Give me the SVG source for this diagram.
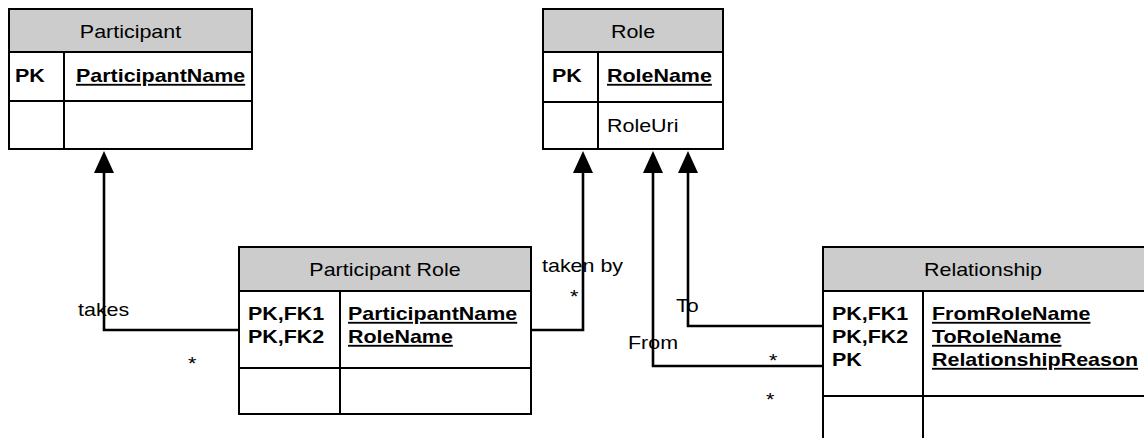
<svg xmlns="http://www.w3.org/2000/svg" width="1144" height="438" viewBox="0 0 1144 438">
  <style>
    text { font-family: "Liberation Sans", Arial, sans-serif; font-size: 18.5px; fill: #000; }
    .hdr { fill: #cccccc; stroke: #000; stroke-width: 2; }
    .box { fill: #ffffff; stroke: #000; stroke-width: 2; }
    .sep { stroke: #000; stroke-width: 2; fill: none; }
    .title { text-anchor: middle; }
    .key { font-weight: bold; }
    .pk { font-weight: bold; text-decoration: underline; }
    .conn { stroke: #000; stroke-width: 2.6; fill: none; marker-end: url(#arrow); }
  </style>
  <defs>
    <marker id="arrow" viewBox="0 0 22 20" refX="0" refY="10" markerWidth="22" markerHeight="20" markerUnits="userSpaceOnUse" orient="auto">
      <path d="M0,0 L22,10 L0,20 z" fill="#000"/>
    </marker>
  </defs>

  <rect width="1144" height="438" fill="#ffffff"/>

  <!-- Participant entity -->
  <g id="participant">
    <rect class="box" x="9" y="9" width="243" height="140"/>
    <rect class="hdr" x="9" y="9" width="243" height="43"/>
    <line class="sep" x1="9" y1="101" x2="252" y2="101"/>
    <line class="sep" x1="64" y1="52" x2="64" y2="149"/>
    <text class="title" transform="translate(130.5 37.5) scale(1.16 1)">Participant</text>
    <text class="key" transform="translate(15 82) scale(1.16 1)">PK</text>
    <text class="pk" transform="translate(76 82) scale(1.16 1)">ParticipantName</text>
  </g>

  <!-- Role entity -->
  <g id="role">
    <rect class="box" x="543" y="9" width="180" height="140"/>
    <rect class="hdr" x="543" y="9" width="180" height="43"/>
    <line class="sep" x1="543" y1="102" x2="723" y2="102"/>
    <line class="sep" x1="598" y1="52" x2="598" y2="149"/>
    <text class="title" transform="translate(633 37.5) scale(1.16 1)">Role</text>
    <text class="key" transform="translate(552 82) scale(1.16 1)">PK</text>
    <text class="pk" transform="translate(607 82) scale(1.16 1)">RoleName</text>
    <text transform="translate(607 132) scale(1.16 1)">RoleUri</text>
  </g>

  <!-- Participant Role entity -->
  <g id="participant-role">
    <rect class="box" x="239" y="247" width="292" height="167"/>
    <rect class="hdr" x="239" y="247" width="292" height="44"/>
    <line class="sep" x1="239" y1="368" x2="531" y2="368"/>
    <line class="sep" x1="340" y1="291" x2="340" y2="414"/>
    <text class="title" transform="translate(385 275.5) scale(1.16 1)">Participant Role</text>
    <text class="key" transform="translate(248 320) scale(1.16 1)">PK,FK1</text>
    <text class="key" transform="translate(248 343) scale(1.16 1)">PK,FK2</text>
    <text class="pk" transform="translate(348 320) scale(1.16 1)">ParticipantName</text>
    <text class="pk" transform="translate(348 343) scale(1.16 1)">RoleName</text>
  </g>

  <!-- Relationship entity (runs past the right edge) -->
  <g id="relationship">
    <rect class="box" x="823" y="247" width="323" height="200"/>
    <rect class="hdr" x="823" y="247" width="323" height="44"/>
    <line class="sep" x1="823" y1="396" x2="1146" y2="396"/>
    <line class="sep" x1="923" y1="291" x2="923" y2="440"/>
    <text class="title" transform="translate(983 275.5) scale(1.16 1)">Relationship</text>
    <text class="key" transform="translate(832 320) scale(1.16 1)">PK,FK1</text>
    <text class="key" transform="translate(832 343) scale(1.16 1)">PK,FK2</text>
    <text class="key" transform="translate(832 366) scale(1.16 1)">PK</text>
    <text class="pk" transform="translate(932 320) scale(1.16 1)">FromRoleName</text>
    <text class="pk" transform="translate(932 343) scale(1.16 1)">ToRoleName</text>
    <text class="pk" transform="translate(932 366) scale(1.16 1)">RelationshipReason</text>
  </g>

  <!-- Connectors -->
  <g id="connectors">
    <path class="conn" d="M239,330 H104 V173"/>
    <path class="conn" d="M531,330 H583 V173"/>
    <path class="conn" d="M823,326 H688 V173"/>
    <path class="conn" d="M823,366 H653 V173"/>
    <text transform="translate(78 316) scale(1.16 1)">takes</text>
    <text transform="translate(188 370) scale(1.16 1)">*</text>
    <text transform="translate(542 272) scale(1.16 1)">taken by</text>
    <text transform="translate(570 303) scale(1.16 1)">*</text>
    <text transform="translate(676 312) scale(1.16 1)">To</text>
    <text transform="translate(628 349) scale(1.16 1)">From</text>
    <text transform="translate(769 367) scale(1.16 1)">*</text>
    <text transform="translate(766 406) scale(1.16 1)">*</text>
  </g>
</svg>
